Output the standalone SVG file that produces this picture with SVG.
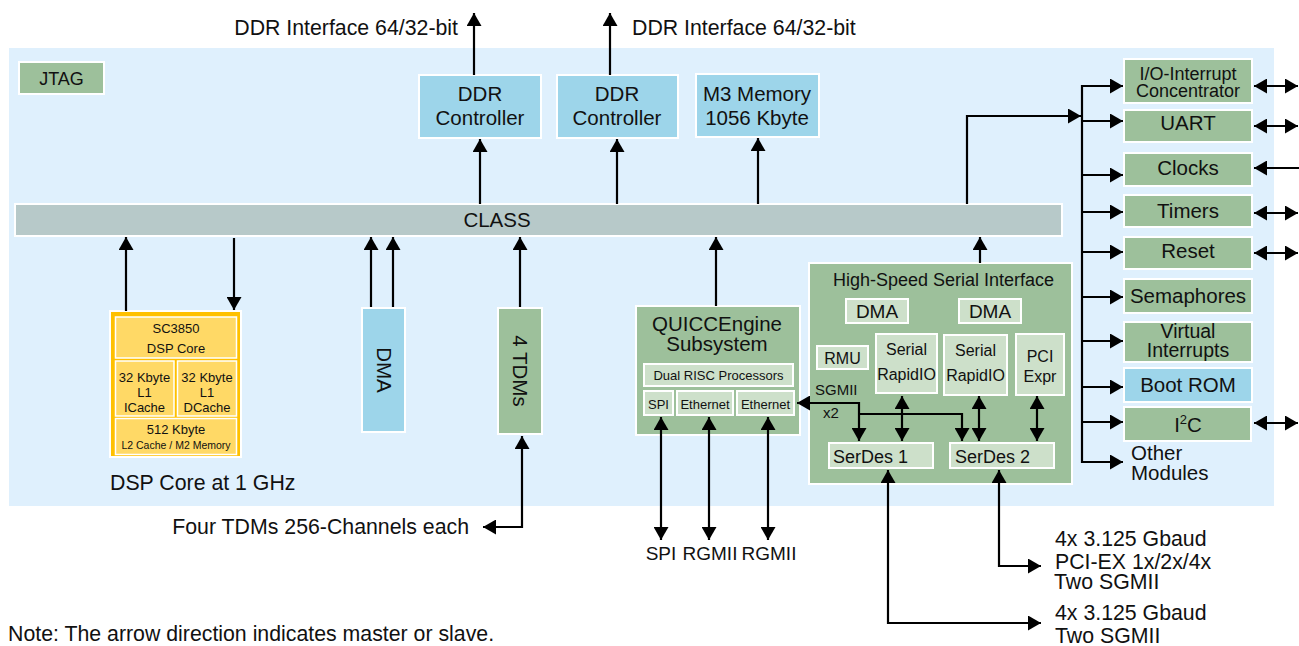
<svg xmlns="http://www.w3.org/2000/svg" width="1299" height="646" viewBox="0 0 1299 646">
<defs>
<style>
.g{fill:#9dc09b;stroke:#fff;stroke-width:2}
.lg{fill:#cde0ca;stroke:#fff;stroke-width:2}
.b{fill:#9dd5ea;stroke:#fff;stroke-width:2}
.cls{fill:#b7c9c9;stroke:#fff;stroke-width:2}
.o{fill:#ffc000;stroke:#fff;stroke-width:2}
.y{fill:#ffd966;stroke:#fff;stroke-width:1.5}
text{font-family:"Liberation Sans",Arial,sans-serif;fill:#111}
.m{text-anchor:middle}
.e{text-anchor:end}
.f21{font-size:21.3px}
.f20{font-size:20.5px}
.f19{font-size:19px}
.f18{font-size:18px}
.f16{font-size:16px}
.f15{font-size:15px}
.f13{font-size:13px}
.f10{font-size:10.5px}
.ln{fill:none;stroke:#000;stroke-width:2.2}
</style>
<marker id="a" viewBox="0 0 13 15" refX="13" refY="7.5" markerWidth="13" markerHeight="15" markerUnits="userSpaceOnUse" orient="auto-start-reverse"><path d="M0,0L13,7.5L0,15z" fill="#000"/></marker>
</defs>
<rect id="panel" x="9" y="48" width="1265" height="458" fill="#dff0fd"/>

<g id="jtag"><rect class="g" x="19" y="62" width="85" height="32"/><text class="m f18" x="61.5" y="84.5">JTAG</text></g>

<g id="ddr1"><rect class="b" x="419" y="75" width="122" height="63"/><text class="m f20" x="480" y="101">DDR</text><text class="m f20" x="480" y="125">Controller</text></g>
<g id="ddr2"><rect class="b" x="557" y="75" width="121" height="63"/><text class="m f20" x="617" y="101">DDR</text><text class="m f20" x="617" y="125">Controller</text></g>
<g id="m3"><rect class="b" x="696" y="74" width="123" height="63"/><text class="m f20" x="757" y="101">M3 Memory</text><text class="m f20" x="757" y="125">1056 Kbyte</text></g>

<g id="ddrlabels">
<text class="e f21" x="458" y="35">DDR Interface 64/32-bit</text>
<text class="f21" x="632" y="35">DDR Interface 64/32-bit</text>
</g>

<g id="class"><rect class="cls" x="15" y="204" width="1047" height="32"/><text class="m f20" x="497" y="227">CLASS</text></g>

<g id="dsp">
<rect class="o" x="110" y="311" width="131" height="146"/>
<rect class="y" x="115.5" y="317" width="121" height="41"/>
<rect class="y" x="115.5" y="361" width="58.5" height="55"/>
<rect class="y" x="177.5" y="361" width="59" height="55"/>
<rect class="y" x="115.5" y="418.5" width="121" height="36"/>
<text class="m f13" x="176" y="333">SC3850</text>
<text class="m f13" x="176" y="353">DSP Core</text>
<text class="m f13" x="144.5" y="382">32 Kbyte</text>
<text class="m f13" x="144.5" y="397">L1</text>
<text class="m f13" x="144.5" y="411.5">ICache</text>
<text class="m f13" x="207" y="382">32 Kbyte</text>
<text class="m f13" x="207" y="397">L1</text>
<text class="m f13" x="207" y="411.5">DCache</text>
<text class="m f13" x="176" y="433.5">512 Kbyte</text>
<text class="m f10" x="176" y="448.5">L2 Cache / M2 Memory</text>
</g>
<text id="dsplabel" class="f21" x="110" y="490">DSP Core at 1 GHz</text>

<g id="dma"><rect class="b" x="362" y="308" width="43" height="124"/><text class="m f20" transform="translate(383.5,370) rotate(90)" y="7">DMA</text></g>
<g id="tdm"><rect class="g" x="498" y="308" width="44" height="126"/><text class="m f20" transform="translate(520,371) rotate(90)" y="7">4 TDMs</text></g>
<text id="tdmlabel" class="e f21" x="469" y="534">Four TDMs 256-Channels each</text>

<g id="quicc">
<rect class="g" x="636" y="306" width="164" height="129"/>
<text class="m" style="font-size:20.5px" x="717" y="331">QUICCEngine</text>
<text class="m" style="font-size:20.5px" x="717" y="351">Subsystem</text>
<rect class="lg" x="644" y="364" width="149" height="22"/>
<text class="m f13" x="718.5" y="379.5">Dual RISC Processors</text>
<rect class="lg" x="644" y="391" width="29" height="24"/>
<text class="m f13" x="658.5" y="408.5">SPI</text>
<rect class="lg" x="677" y="391" width="56" height="24"/>
<text class="m f13" x="705" y="408.5">Ethernet</text>
<rect class="lg" x="737" y="391" width="57" height="24"/>
<text class="m f13" x="765.5" y="408.5">Ethernet</text>
</g>
<g id="quicclabels">
<text class="m f19" x="661" y="560">SPI</text>
<text class="m f19" x="710" y="560">RGMII</text>
<text class="m f19" x="769" y="560">RGMII</text>
</g>

<g id="hssi">
<rect class="g" x="809" y="263" width="263" height="221"/>
<text class="m f18" x="943.5" y="286">High-Speed Serial Interface</text>
<rect class="lg" x="846" y="299" width="62" height="24"/>
<text class="m f19" x="877" y="318">DMA</text>
<rect class="lg" x="959" y="299" width="62" height="24"/>
<text class="m f19" x="990" y="318">DMA</text>
<rect class="lg" x="817" y="346" width="51" height="23"/>
<text class="m f16" x="842.5" y="364">RMU</text>
<rect class="lg" x="876" y="334" width="61" height="59"/>
<text class="m f16" x="906.5" y="355">Serial</text>
<text class="m f16" x="906.5" y="380">RapidIO</text>
<rect class="lg" x="944" y="335" width="63" height="60"/>
<text class="m f16" x="975.5" y="356">Serial</text>
<text class="m f16" x="975.5" y="381">RapidIO</text>
<rect class="lg" x="1016" y="334" width="48" height="61"/>
<text class="m f16" x="1040" y="362">PCI</text>
<text class="m f16" x="1040" y="382">Expr</text>
<text class="f15" x="815" y="395">SGMII</text>
<text class="f15" x="823" y="418">x2</text>
<rect class="lg" x="829" y="443" width="104" height="25"/>
<text class="f18" x="833" y="463">SerDes 1</text>
<rect class="lg" x="950" y="443" width="104" height="25"/>
<text class="f18" x="955" y="463">SerDes 2</text>
</g>

<g id="serdeslabels">
<text class="f21" x="1055" y="546">4x 3.125 Gbaud</text>
<text class="f21" x="1055" y="569">PCI-EX 1x/2x/4x</text>
<text class="f21" x="1054" y="589">Two SGMII</text>
<text class="f21" x="1055" y="620">4x 3.125 Gbaud</text>
<text class="f21" x="1055" y="643">Two SGMII</text>
</g>

<g id="io"><rect class="g" x="1124" y="59" width="128" height="44"/><text class="m f18" x="1188" y="79.5">I/O-Interrupt</text><text class="m f18" x="1188" y="97">Concentrator</text></g>
<g id="uart"><rect class="g" x="1124" y="110" width="128" height="32"/><text class="m f20" x="1188" y="130">UART</text></g>
<g id="clocks"><rect class="g" x="1124" y="153" width="128" height="33"/><text class="m f20" x="1188" y="175">Clocks</text></g>
<g id="timers"><rect class="g" x="1124" y="195" width="128" height="32"/><text class="m f20" x="1188" y="218">Timers</text></g>
<g id="reset"><rect class="g" x="1124" y="237" width="128" height="32"/><text class="m f20" x="1188" y="258">Reset</text></g>
<g id="semaphores"><rect class="g" x="1124" y="279" width="128" height="34"/><text class="m f20" x="1188" y="303">Semaphores</text></g>
<g id="virtual"><rect class="g" x="1124" y="322" width="128" height="40"/><text class="m" style="font-size:19.5px" x="1188" y="338">Virtual</text><text class="m" style="font-size:19.5px" x="1188" y="357">Interrupts</text></g>
<g id="bootrom"><rect class="b" x="1124" y="368" width="128" height="34"/><text class="m f20" x="1188" y="392">Boot ROM</text></g>
<g id="i2c"><rect class="g" x="1124" y="407" width="127" height="34"/><text class="m f20" x="1188" y="432">I<tspan style="font-size:13px" dy="-8">2</tspan><tspan dy="8">C</tspan></text></g>
<g id="other"><text class="f20" x="1131" y="460">Other</text><text class="f20" x="1131" y="480">Modules</text></g>

<text id="note" class="f21" x="8" y="641">Note: The arrow direction indicates master or slave.</text>

<g id="connectors" class="ln">
<path d="M474,75V13" marker-end="url(#a)"/>
<path d="M610,75V13" marker-end="url(#a)"/>
<path d="M480,204V139" marker-end="url(#a)"/>
<path d="M617,204V139" marker-end="url(#a)"/>
<path d="M758,204V138" marker-end="url(#a)"/>
<path d="M967,204V116H1081" marker-end="url(#a)"/>
<path d="M1082,85V463"/>
<path d="M1082,86H1123" marker-end="url(#a)"/>
<path d="M1082,121H1123" marker-end="url(#a)"/>
<path d="M1082,175H1123" marker-end="url(#a)"/>
<path d="M1082,212H1123" marker-end="url(#a)"/>
<path d="M1082,252H1123" marker-end="url(#a)"/>
<path d="M1082,297H1123" marker-end="url(#a)"/>
<path d="M1082,341H1123" marker-end="url(#a)"/>
<path d="M1082,387H1123" marker-end="url(#a)"/>
<path d="M1082,422H1123" marker-end="url(#a)"/>
<path d="M1082,462H1123" marker-end="url(#a)"/>
<path d="M1254,86H1298" marker-start="url(#a)" marker-end="url(#a)"/>
<path d="M1254,126H1298" marker-start="url(#a)" marker-end="url(#a)"/>
<path d="M1299,168H1254" marker-end="url(#a)"/>
<path d="M1254,213H1298" marker-start="url(#a)" marker-end="url(#a)"/>
<path d="M1254,253H1298" marker-start="url(#a)" marker-end="url(#a)"/>
<path d="M1254,423H1298" marker-start="url(#a)" marker-end="url(#a)"/>
<path d="M126,311V237" marker-end="url(#a)"/>
<path d="M234,238V310" marker-end="url(#a)"/>
<path d="M371,307V237" marker-end="url(#a)"/>
<path d="M393,307V237" marker-end="url(#a)"/>
<path d="M520,307V237" marker-end="url(#a)"/>
<path d="M483,527H522V436" marker-start="url(#a)" marker-end="url(#a)"/>
<path d="M716,306V237" marker-end="url(#a)"/>
<path d="M980,263V237" marker-end="url(#a)"/>
<path d="M661,417V540" marker-start="url(#a)" marker-end="url(#a)"/>
<path d="M709,417V540" marker-start="url(#a)" marker-end="url(#a)"/>
<path d="M768,417V540" marker-start="url(#a)" marker-end="url(#a)"/>
<path d="M797,403H859V441" marker-start="url(#a)" marker-end="url(#a)"/>
<path d="M859,414H962V441" marker-end="url(#a)"/>
<path d="M902,396V441" marker-start="url(#a)" marker-end="url(#a)"/>
<path d="M979,396V441" marker-start="url(#a)" marker-end="url(#a)"/>
<path d="M1037,396V441" marker-start="url(#a)" marker-end="url(#a)"/>
<path d="M888,470V623H1041" marker-start="url(#a)" marker-end="url(#a)"/>
<path d="M999,470V566H1041" marker-start="url(#a)" marker-end="url(#a)"/>
</g>
</svg>
